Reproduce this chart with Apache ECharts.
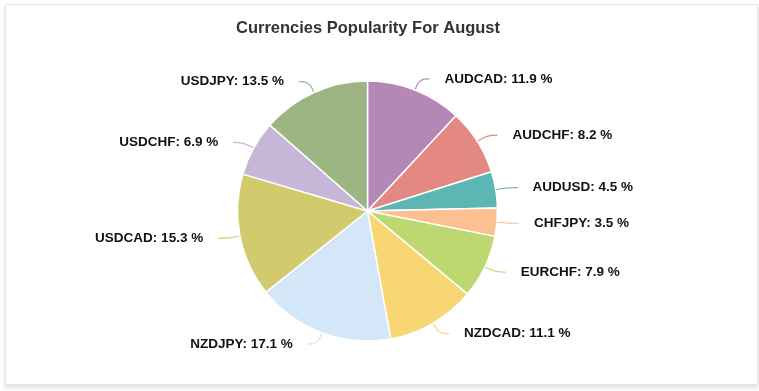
<!DOCTYPE html>
<html>
<head>
<meta charset="utf-8">
<script src="https://cdn.jsdelivr.net/npm/echarts@6/dist/echarts.min.js"></script>
<style>
html,body{margin:0;padding:0;background:#fff;width:759px;height:391px;overflow:hidden;}
#frame{position:absolute;left:5px;top:4px;width:751px;height:379px;border:1px solid #e4e4e4;box-shadow:0 3px 4px rgba(0,0,0,0.12);background:#fff;}
#chart{position:absolute;left:0;top:0;width:759px;height:391px;}
</style>
</head>
<body>
<div id="frame"></div>
<div id="chart"></div>
<script>
const categories = ["AUDCAD","AUDCHF","AUDUSD","CHFJPY","EURCHF","NZDCAD","NZDJPY","USDCAD","USDCHF","USDJPY"];
const values = [11.9, 8.2, 4.5, 3.5, 7.9, 11.1, 17.1, 15.3, 6.9, 13.5];
const colors = ["#b587b6","#e38883","#5bb6b4","#fdc093","#bdd870","#f7d673","#d3e7f9","#d1cb6d","#c6b6d8","#9db583"];
const titleText = "Currencies Popularity For August";

const chart = echarts.init(document.getElementById('chart'), null, {renderer:'canvas'});
chart.setOption({
  backgroundColor: 'transparent',
  animation: false,
  color: colors,
  title: {
    text: titleText,
    left: 231,
    top: 15,
    textStyle: {fontFamily: 'Liberation Sans, Arial, sans-serif', fontSize: 16.5, fontWeight: 'bold', color: '#333'}
  },
  series: [{
    type: 'pie',
    center: [367.5, 211],
    radius: 130,
    startAngle: 90,
    clockwise: true,
    data: categories.map((c, i) => ({name: c, value: values[i]})),
    itemStyle: {borderColor: '#fff', borderWidth: 1.5},
    label: {
      formatter: p => p.name + ': ' + p.value + ' %',
      fontFamily: 'Liberation Sans, Arial, sans-serif',
      fontSize: 13.5,
      fontWeight: 'bold',
      color: '#111',
      distanceToLabelLine: 15
    },
    labelLine: {length: 12, length2: 10, smooth: 0.4, lineStyle: {width: 1.2}}
  }]
});
</script>
</body>
</html>
